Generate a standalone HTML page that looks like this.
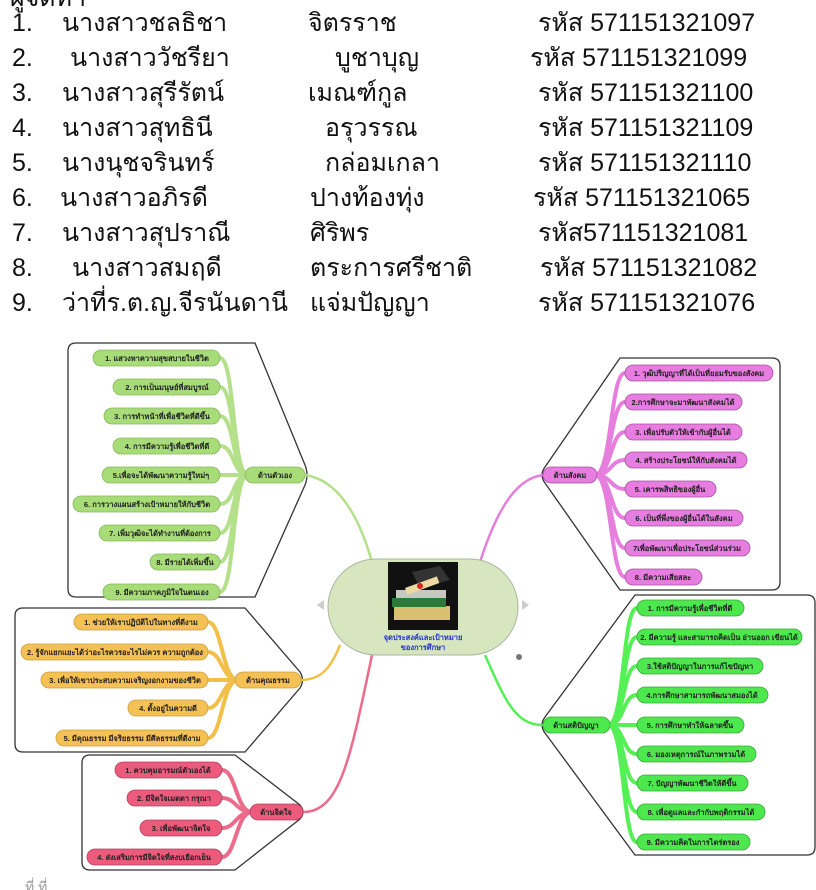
<!DOCTYPE html>
<html><head><meta charset="utf-8">
<style>
html,body{margin:0;padding:0;background:#fff;}
svg{display:block;font-family:"Liberation Sans","Noto Sans CJK SC",sans-serif;}
.L{font-size:25px;fill:#111;}
.p{font-size:7.5px;font-weight:bold;fill:#222;text-anchor:middle;}
</style></head><body>
<svg width="816" height="890" viewBox="0 0 816 890" xmlns="http://www.w3.org/2000/svg">
<rect width="816" height="890" fill="#fff"/>
<!-- list -->
<g class="L">
<text x="10" y="6">ผู้จัดทำ</text>
<text x="12" y="31">1.</text><text x="62" y="31">นางสาวชลธิชา</text><text x="308" y="31">จิตรราช</text><text x="538" y="31">รหัส 571151321097</text>
<text x="12" y="66">2.</text><text x="70" y="66">นางสาววัชรียา</text><text x="335" y="66">บูชาบุญ</text><text x="530" y="66">รหัส 571151321099</text>
<text x="12" y="101">3.</text><text x="62" y="101">นางสาวสุรีรัตน์</text><text x="308" y="101">เมณฑ์กูล</text><text x="538" y="101">รหัส 571151321100</text>
<text x="12" y="136">4.</text><text x="62" y="136">นางสาวสุทธินี</text><text x="325" y="136">อรุวรรณ</text><text x="538" y="136">รหัส 571151321109</text>
<text x="12" y="171">5.</text><text x="62" y="171">นางนุชจรินทร์</text><text x="325" y="171">กล่อมเกลา</text><text x="538" y="171">รหัส 571151321110</text>
<text x="12" y="206">6.</text><text x="60" y="206">นางสาวอภิรดี</text><text x="310" y="206">ปางท้องทุ่ง</text><text x="533" y="206">รหัส 571151321065</text>
<text x="12" y="241">7.</text><text x="62" y="241">นางสาวสุปราณี</text><text x="310" y="241">ศิริพร</text><text x="538" y="241">รหัส571151321081</text>
<text x="12" y="276">8.</text><text x="72" y="276">นางสาวสมฤดี</text><text x="310" y="276">ตระการศรีชาติ</text><text x="540" y="276">รหัส 571151321082</text>
<text x="12" y="311">9.</text><text x="62" y="311">ว่าที่ร.ต.ญ.จีรนันดานี</text><text x="310" y="311">แจ่มปัญญา</text><text x="538" y="311">รหัส 571151321076</text>
</g>

<!-- group boxes -->
<g fill="none" stroke="#333" stroke-width="1.3">
<path d="M76,343 H255 L305,465 Q309,475 305,485 L255,597 H76 Q68,597 68,589 V351 Q68,343 76,343 Z"/>
<path d="M23,608 H245 L300,672 Q305,680 300,688 L245,752 H23 Q15,752 15,744 V616 Q15,608 23,608 Z"/>
<path d="M90,755 H235 L300,805 Q306,812 300,819 L235,870 H90 Q82,870 82,862 V763 Q82,755 90,755 Z"/>
<path d="M772,358 Q780,358 780,366 V582 Q780,590 772,590 H620 L545,483 Q539,475 545,467 L620,358 Z"/>
<path d="M807,595 Q815,595 815,603 V847 Q815,855 807,855 H635 L545,733 Q539,725 545,717 L635,595 Z"/>
</g>

<!-- main connectors -->
<g fill="none" stroke-width="2.5">
<path d="M372,562 C360,520 340,480 305,475" stroke="#b5e08a"/>
<path d="M340,645 C330,670 320,680 300,680" stroke="#f2c04a"/>
<path d="M372,655 C350,760 340,812 303,812" stroke="#ec6a8a"/>
<path d="M480,562 C500,500 520,478 543,475" stroke="#e67ede"/>
<path d="M485,655 C505,700 515,725 543,725" stroke="#55f055"/>
</g>

<!-- branch fans -->
<g fill="none" stroke="#b5e08a" stroke-width="4">
<path d="M248,475 C232,475 235,358 220,358"/><path d="M248,475 C232,475 235,387 220,387"/><path d="M248,475 C232,475 235,416 220,416"/><path d="M248,475 C232,475 235,446 220,446"/><path d="M248,475 H220"/><path d="M248,475 C232,475 235,504 220,504"/><path d="M248,475 C232,475 235,533 220,533"/><path d="M248,475 C232,475 235,562 220,562"/><path d="M248,475 C232,475 235,592 220,592"/>
</g>
<g fill="none" stroke="#f2c04a" stroke-width="4">
<path d="M238,680 C222,680 222,622 208,622"/><path d="M238,680 C222,680 222,652 208,652"/><path d="M238,680 H208"/><path d="M238,680 C222,680 222,708 208,708"/><path d="M238,680 C222,680 222,738 208,738"/>
</g>
<g fill="none" stroke="#ec6a8a" stroke-width="4">
<path d="M252,812 C236,812 236,770 222,770"/><path d="M252,812 C236,812 236,798 222,798"/><path d="M252,812 C236,812 236,828 222,828"/><path d="M252,812 C236,812 236,857 222,857"/>
</g>
<g fill="none" stroke="#e67ede" stroke-width="4">
<path d="M595,475 C612,475 610,373 625,373"/><path d="M595,475 C612,475 610,402 625,402"/><path d="M595,475 C612,475 610,432 625,432"/><path d="M595,475 C612,475 610,460 625,460"/><path d="M595,475 C612,475 610,489 625,489"/><path d="M595,475 C612,475 610,518 625,518"/><path d="M595,475 C612,475 610,548 625,548"/><path d="M595,475 C612,475 610,577 625,577"/>
</g>
<g fill="none" stroke="#55f055" stroke-width="4">
<path d="M608,725 C625,725 622,608 637,608"/><path d="M608,725 C625,725 622,637 637,637"/><path d="M608,725 C625,725 622,666 637,666"/><path d="M608,725 C625,725 622,695 637,695"/><path d="M608,725 H637"/><path d="M608,725 C625,725 622,754 637,754"/><path d="M608,725 C625,725 622,783 637,783"/><path d="M608,725 C625,725 622,812 637,812"/><path d="M608,725 C625,725 622,842 637,842"/>
</g>

<!-- left green pills -->
<g fill="#a8dc78" stroke="#86b85a" stroke-width="0.8">
<rect x="93" y="350" width="127" height="16" rx="8"/><rect x="113" y="379" width="107" height="16" rx="8"/><rect x="104" y="408" width="116" height="16" rx="8"/><rect x="113" y="438" width="107" height="16" rx="8"/><rect x="102" y="467" width="118" height="16" rx="8"/><rect x="73" y="496" width="147" height="16" rx="8"/><rect x="99" y="525" width="121" height="16" rx="8"/><rect x="150" y="554" width="70" height="16" rx="8"/><rect x="103" y="584" width="117" height="16" rx="8"/>
<rect x="245" y="467" width="60" height="16" rx="8"/>
</g>
<g class="p">
<text x="157" y="361">1. แสวงหาความสุขสบายในชีวิต</text><text x="167" y="390">2. การเป็นมนุษย์ที่สมบูรณ์</text><text x="162" y="419">3. การทำหน้าที่เพื่อชีวิตที่ดีขึ้น</text><text x="167" y="449">4. การมีความรู้เพื่อชีวิตที่ดี</text><text x="161" y="478">5.เพื่อจะได้พัฒนาความรู้ใหม่ๆ</text><text x="147" y="507">6. การวางแผนสร้างเป้าหมายให้กับชีวิต</text><text x="160" y="536">7. เพิ่มวุฒิจะได้ทำงานที่ต้องการ</text><text x="185" y="565">8. มีรายได้เพิ่มขึ้น</text><text x="162" y="595">9. มีความภาคภูมิใจในตนเอง</text>
<text x="275" y="478">ด้านตัวเอง</text>
</g>

<!-- orange pills -->
<g fill="#f5c054" stroke="#c9a040" stroke-width="0.8">
<rect x="74" y="614" width="134" height="16" rx="8"/><rect x="21" y="644" width="187" height="16" rx="8"/><rect x="41" y="672" width="167" height="16" rx="8"/><rect x="128" y="700" width="80" height="16" rx="8"/><rect x="56" y="730" width="152" height="16" rx="8"/>
<rect x="235" y="672" width="66" height="16" rx="8"/>
</g>
<g class="p">
<text x="141" y="625">1. ช่วยให้เราปฏิบัติไปในทางที่ดีงาม</text><text x="115" y="655">2. รู้จักแยกแยะได้ว่าอะไรควรอะไรไม่ควร ความถูกต้อง</text><text x="125" y="683">3. เพื่อให้เขาประสบความเจริญงอกงามของชีวิต</text><text x="168" y="711">4. ตั้งอยู่ในความดี</text><text x="132" y="741">5. มีคุณธรรม มีจริยธรรม มีศีลธรรมที่ดีงาม</text>
<text x="268" y="683">ด้านคุณธรรม</text>
</g>

<!-- red pills -->
<g fill="#ec5b7c" stroke="#b04060" stroke-width="0.8">
<rect x="115" y="762" width="107" height="16" rx="8"/><rect x="127" y="790" width="95" height="16" rx="8"/><rect x="140" y="820" width="82" height="16" rx="8"/><rect x="87" y="849" width="135" height="16" rx="8"/>
<rect x="250" y="804" width="53" height="16" rx="8"/>
</g>
<g class="p">
<text x="168" y="773">1. ควบคุมอารมณ์ตัวเองได้</text><text x="174" y="801">2. มีจิตใจเมตตา กรุณา</text><text x="181" y="831">3. เพื่อพัฒนาจิตใจ</text><text x="154" y="860">4. ส่งเสริมการมีจิตใจที่สงบเยือกเย็น</text>
<text x="276" y="815">ด้านจิตใจ</text>
</g>

<!-- magenta pills -->
<g fill="#e77de0" stroke="#a850a0" stroke-width="0.8">
<rect x="625" y="365" width="148" height="16" rx="8"/><rect x="625" y="394" width="117" height="16" rx="8"/><rect x="625" y="424" width="117" height="16" rx="8"/><rect x="625" y="452" width="122" height="16" rx="8"/><rect x="625" y="481" width="91" height="16" rx="8"/><rect x="625" y="510" width="118" height="16" rx="8"/><rect x="625" y="540" width="125" height="16" rx="8"/><rect x="625" y="569" width="77" height="16" rx="8"/>
<rect x="543" y="467" width="54" height="16" rx="8"/>
</g>
<g class="p">
<text x="699" y="376">1. วุฒิปริญญาที่ได้เป็นที่ยอมรับของสังคม</text><text x="683" y="405">2.การศึกษาจะมาพัฒนาสังคมได้</text><text x="683" y="435">3. เพื่อปรับตัวให้เข้ากับผู้อื่นได้</text><text x="686" y="463">4. สร้างประโยชน์ให้กับสังคมได้</text><text x="670" y="492">5. เคารพสิทธิของผู้อื่น</text><text x="684" y="521">6. เป็นที่พึ่งของผู้อื่นได้ในสังคม</text><text x="687" y="551">7เพื่อพัฒนาเพื่อประโยชน์ส่วนร่วม</text><text x="663" y="580">8. มีความเสียสละ</text>
<text x="570" y="478">ด้านสังคม</text>
</g>

<!-- green right pills -->
<g fill="#4de84d" stroke="#38a838" stroke-width="0.8">
<rect x="637" y="600" width="107" height="16" rx="8"/><rect x="637" y="629" width="165" height="16" rx="8"/><rect x="637" y="658" width="126" height="16" rx="8"/><rect x="637" y="687" width="131" height="16" rx="8"/><rect x="637" y="717" width="107" height="16" rx="8"/><rect x="637" y="746" width="119" height="16" rx="8"/><rect x="637" y="775" width="111" height="16" rx="8"/><rect x="637" y="804" width="128" height="16" rx="8"/><rect x="637" y="834" width="113" height="16" rx="8"/>
<rect x="543" y="717" width="67" height="16" rx="8"/>
</g>
<g class="p">
<text x="690" y="611">1. การมีความรู้เพื่อชีวิตที่ดี</text><text x="719" y="640">2. มีความรู้ และสามารถคิดเป็น อ่านออก เขียนได้</text><text x="700" y="669">3.ใช้สติปัญญาในการแก้ไขปัญหา</text><text x="702" y="698">4.การศึกษาสามารถพัฒนาสมองได้</text><text x="690" y="728">5. การศึกษาทำให้ฉลาดขึ้น</text><text x="696" y="757">6. มองเหตุการณ์ในภาพรวมได้</text><text x="692" y="786">7. ปัญญาพัฒนาชีวิตให้ดีขึ้น</text><text x="701" y="815">8. เพื่อดูแลและกำกับพฤติกรรมได้</text><text x="693" y="845">9. มีความคิดในการไตร่ตรอง</text>
<text x="576" y="728">ด้านสติปัญญา</text>
</g>

<!-- center node -->
<rect x="328" y="559" width="190" height="96" rx="48" fill="#d8e6c0" stroke="#a8b8a0" stroke-width="1"/>
<polygon points="324,600 324,610 317,605" fill="#ccc"/>
<polygon points="522,600 522,610 529,605" fill="#ccc"/>
<circle cx="519" cy="657" r="3" fill="#777"/>
<rect x="388" y="562" width="70" height="68" fill="#111"/>
<rect x="394" y="606" width="56" height="14" fill="#d8c070"/>
<rect x="392" y="598" width="54" height="9" fill="#2a7a3a"/>
<rect x="396" y="590" width="50" height="8" fill="#c8c8c0"/>
<polygon points="412,572 440,566 450,580 420,588" fill="#333"/>
<rect x="405" y="582" width="34" height="7" fill="#eed9a0" transform="rotate(-20 422 585)"/>
<circle cx="420" cy="586" r="3" fill="#d22"/>
<text x="423" y="640" font-size="7.5" font-weight="bold" fill="#2233cc" text-anchor="middle">จุดประสงค์และเป้าหมาย</text>
<text x="423" y="650" font-size="7.5" font-weight="bold" fill="#2233cc" text-anchor="middle">ของการศึกษา</text>

<text x="25" y="892" font-size="14" fill="#999">ที่            ที่</text>
</svg>
</body></html>
